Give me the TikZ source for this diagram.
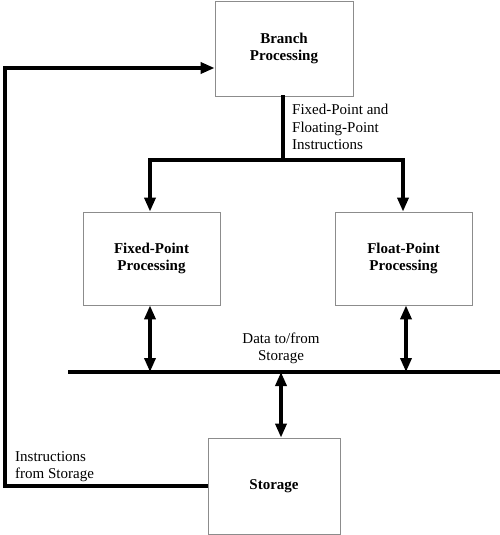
\documentclass[tikz,border=0pt]{standalone}
\usepackage{fontspec}
\setmainfont{Liberation Serif}
\usetikzlibrary{arrows.meta}

\begin{document}
\begin{tikzpicture}[x=1pt, y=-1pt, font=\fontsize{15}{17.5}\selectfont,
  box/.style={draw=black!45, line width=0.8pt, align=center, minimum width=137pt, minimum height=93pt, font=\fontsize{15}{17}\selectfont\bfseries},
  wire/.style={line width=3.4pt, line cap=rect},
  arr/.style={-{Triangle[length=14pt, width=11pt]}, line width=3.4pt},
  darr/.style={{Triangle[length=14pt, width=11pt]}-{Triangle[length=14pt, width=11pt]}, line width=3.4pt}]
\useasboundingbox (0,0) rectangle (500,535);
\node[box, minimum width=138pt, minimum height=95pt] (branch) at (284,48.5) {Branch\\Processing};
\node[box] (fixed) at (151.5,258.5) {Fixed-Point\\Processing};
\node[box] (float) at (403.5,258.5) {Float-Point\\Processing};
\node[box, minimum width=132pt, minimum height=96pt] (store) at (274,486) {Storage};
% branch to the two units
\coordinate (split) at (283,160);
\coordinate (splitL) at (150,160);
\coordinate (splitR) at (403,160);
\draw[wire] (branch.south -| split) -- (split);
\draw[wire] (splitL) -- (splitR);
\draw[arr] (splitL) -- (fixed.north -| splitL);
\draw[arr] (splitR) -- (float.north -| splitR);
% data bus
\coordinate (busL) at (68,372);
\coordinate (busR) at (500,372);
\draw[wire, line cap=butt] (busL) -- (busR);
\draw[darr] (fixed.south -| 150,0) -- (busL -| 150,0);
\draw[darr] (float.south -| 406,0) -- (busL -| 406,0);
\draw[darr] (busL -| 281,0) -- (store.north -| 281,0);
% instructions back to branch
\coordinate (loopB) at (5,486);
\coordinate (loopT) at (5,68);
\draw[arr] (store.west) -- (loopB) -- (loopT) -- (branch.west |- loopT);
% labels
\node[anchor=north west, align=left, inner sep=0pt] (lblinstr) at (292,104) {Fixed-Point and\\Floating-Point\\Instructions};
\node[anchor=south, align=center, inner sep=0pt] (lbldata) at (281,364) {Data to/from\\Storage};
\node[anchor=south west, align=left, inner sep=0pt] (lblstore) at (15,482) {Instructions\\from Storage};
\end{tikzpicture}
\end{document}
